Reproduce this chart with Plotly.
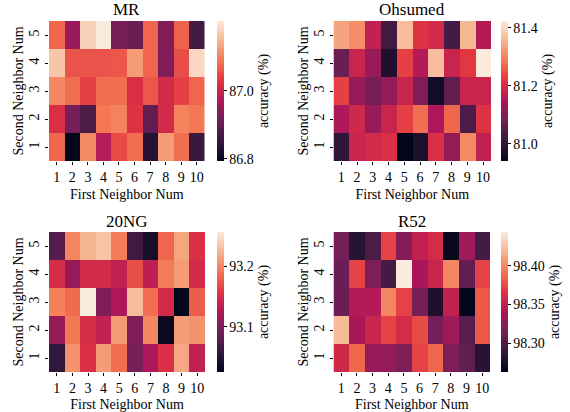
import plotly.graph_objects as go

first_neighbor = [1, 2, 3, 4, 5, 6, 7, 8, 9, 10]
second_neighbor = [1, 2, 3, 4, 5]

# rows: second neighbor 1..5 ; columns: first neighbor 1..10
mr_acc = [
    [87.074, 86.793, 87.107, 86.979, 87.049, 87.082, 86.834, 87.123, 87.082, 86.855],
    [87.020, 86.917, 86.876, 87.090, 87.099, 87.024, 86.896, 87.012, 87.099, 87.090],
    [87.103, 87.082, 87.041, 87.082, 87.082, 87.020, 87.061, 87.012, 87.041, 87.074],
    [87.165, 87.057, 87.057, 87.057, 87.061, 87.123, 87.074, 86.929, 87.053, 87.185],
    [87.074, 86.950, 87.177, 87.206, 86.917, 86.905, 87.074, 86.929, 87.070, 86.867],
]
ohsumed_acc = [
    [80.998, 81.182, 81.196, 81.206, 80.940, 80.974, 81.206, 81.119, 81.307, 81.172],
    [81.148, 81.191, 81.124, 81.182, 81.230, 81.278, 81.148, 81.268, 81.037, 81.210],
    [81.230, 81.119, 81.085, 81.119, 81.182, 81.095, 80.964, 81.061, 81.182, 81.182],
    [81.070, 81.182, 81.124, 80.979, 81.230, 81.157, 81.365, 81.182, 81.220, 81.423],
    [81.336, 81.312, 81.172, 81.022, 81.365, 81.210, 81.196, 81.027, 81.360, 81.157],
]
ng20_acc = [
    [93.056, 93.205, 93.153, 93.210, 93.187, 93.095, 93.125, 93.153, 93.217, 93.136],
    [93.111, 93.192, 93.150, 93.136, 93.210, 93.100, 93.199, 93.031, 93.210, 93.205],
    [93.196, 93.185, 93.256, 93.100, 93.125, 93.228, 93.187, 93.148, 93.026, 93.178],
    [93.150, 93.113, 93.148, 93.148, 93.136, 93.171, 93.134, 93.194, 93.210, 93.148],
    [93.077, 93.199, 93.224, 93.233, 93.194, 93.065, 93.040, 93.182, 93.215, 93.153],
]
r52_acc = [
    [98.357, 98.386, 98.332, 98.330, 98.321, 98.372, 98.386, 98.321, 98.308, 98.281],
    [98.421, 98.339, 98.353, 98.372, 98.359, 98.375, 98.317, 98.335, 98.304, 98.381],
    [98.312, 98.344, 98.344, 98.399, 98.372, 98.317, 98.277, 98.350, 98.2625, 98.381],
    [98.312, 98.372, 98.321, 98.295, 98.444, 98.339, 98.353, 98.399, 98.308, 98.372],
    [98.317, 98.281, 98.299, 98.372, 98.323, 98.350, 98.359, 98.266, 98.335, 98.295],
]

titles = ["MR", "Ohsumed", "20NG", "R52"]
cbar_ticks = [
    ([86.8, 87.0], ["86.8", "87.0"]),
    ([81.0, 81.2, 81.4], ["81.0", "81.2", "81.4"]),
    ([93.1, 93.2], ["93.1", "93.2"]),
    ([98.30, 98.35, 98.40], ["98.30", "98.35", "98.40"]),
]
datasets = [mr_acc, ohsumed_acc, ng20_acc, r52_acc]

rocket = [
    [0.0, "#03051a"], [0.143, "#35193e"], [0.286, "#701f57"], [0.429, "#ad1759"],
    [0.571, "#e13342"], [0.714, "#f37651"], [0.857, "#f6b48f"], [1.0, "#faebdd"],
]

W, H = 570, 412
FONT = "Liberation Serif"
# panel pixel boxes: (left, right, top, bottom), colorbar left
boxes = [
    (49, 204.5, 21, 161, 216.5),
    (333.5, 491, 21, 161, 501),
    (49, 205, 232, 372, 216.5),
    (333.5, 490, 232, 372, 501),
]

fig = go.Figure()
layout = dict(
    width=W, height=H, margin=dict(l=0, r=0, t=0, b=0),
    paper_bgcolor="white", plot_bgcolor="white",
    font=dict(family=FONT, size=14, color="black"),
    annotations=[],
)

for i, (z, title, (tv, tt), box) in enumerate(zip(datasets, titles, cbar_ticks, boxes)):
    l, r, t, b, cbx = box
    xa = "x" if i == 0 else f"x{i+1}"
    ya = "y" if i == 0 else f"y{i+1}"
    fig.add_trace(go.Heatmap(
        x=first_neighbor, y=second_neighbor, z=z, xaxis=xa, yaxis=ya,
        colorscale=rocket, xgap=0, ygap=0,
        colorbar=dict(
            x=cbx / W, xanchor="left", xpad=0, ypad=0,
            y=1 - (t + b) / 2 / H, yanchor="middle",
            len=(b - t) / H, lenmode="fraction", thickness=7,
            outlinewidth=0, ticks="outside", ticklen=3, tickcolor="black",
            tickvals=tv, ticktext=tt, tickfont=dict(family=FONT, size=14),
            title=dict(text="accuracy (%)", side="right", font=dict(family=FONT, size=14)),
        ),
    ))
    xkey = "xaxis" if i == 0 else f"xaxis{i+1}"
    ykey = "yaxis" if i == 0 else f"yaxis{i+1}"
    layout[xkey] = dict(
        domain=[l / W, r / W], anchor=ya, range=[0.5, 10.5],
        tickmode="array", tickvals=first_neighbor, ticktext=[str(v) for v in first_neighbor],
        ticks="outside", ticklen=3, tickcolor="black", showgrid=False, zeroline=False,
        showline=False, tickfont=dict(size=14),
        title=dict(text="First Neighbor Num", font=dict(size=14), standoff=5),
    )
    layout[ykey] = dict(
        domain=[1 - b / H, 1 - t / H], anchor=xa, range=[0.5, 5.5],
        tickmode="array", tickvals=second_neighbor, ticktext=[str(v) for v in second_neighbor],
        ticks="outside", ticklen=3, tickcolor="black", showgrid=False, zeroline=False,
        showline=False, tickangle=-90, tickfont=dict(size=14),
        title=dict(text="Second Neighbor Num", font=dict(size=14), standoff=0),
    )
    layout["annotations"].append(dict(
        text=title, x=(l + r) / 2 / W, y=1 - (t - 11) / H, xref="paper", yref="paper",
        xanchor="center", yanchor="middle", showarrow=False,
        font=dict(family=FONT, size=17, color="black"),
    ))

fig.update_layout(**layout)
fig.write_html("out.html", config={"displayModeBar": False},
               post_script="document.body.style.margin='0';")
